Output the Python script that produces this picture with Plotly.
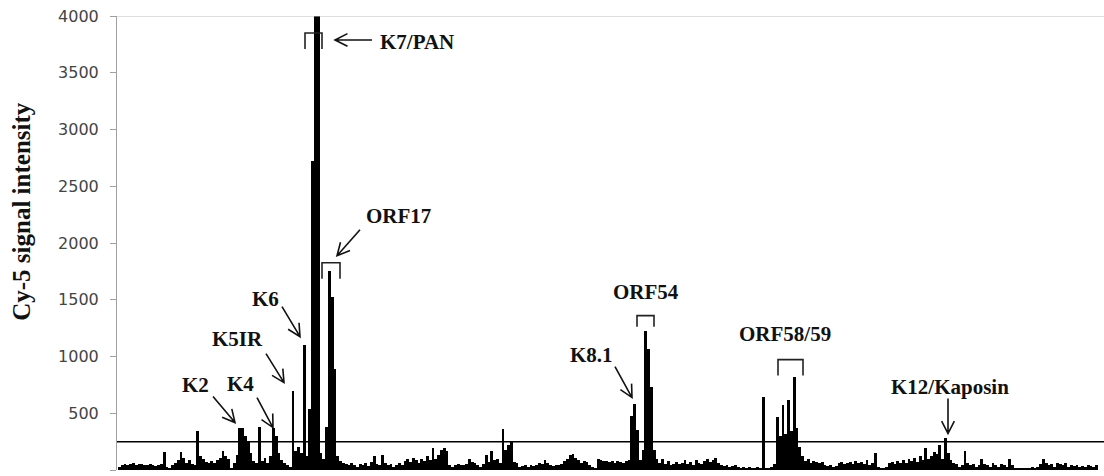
import plotly.graph_objects as go
import math

# ---- data ----
probe_index = list(range(350))
signal = [
    30, 45, 50, 40, 55, 60, 45, 50, 55, 45, 40, 50, 45, 35, 40, 50,
    160, 30, 10, 40, 60, 90, 160, 110, 60, 90, 50, 40, 340, 120,
    100, 70, 60, 80, 60, 90, 110, 170, 120, 100, 20, 60, 130, 370, 370,
    300, 250, 150, 80, 60, 380, 80, 110, 60, 120, 370, 300, 150, 90, 60,
    40, 30, 700, 170, 200, 150, 1100, 120, 540, 2720, 4200, 4200, 150, 100, 380,
    1750, 1520, 890, 120, 80, 60, 50, 40, 60, 45, 30, 50, 40, 60, 35,
    70, 120, 50, 40, 135, 60, 40, 50, 30, 45, 60, 40, 80, 100, 70,
    110, 90, 60, 100, 80, 120, 90, 190, 100, 130, 180, 190, 170, 40, 30,
    40, 50, 45, 40, 50, 100, 70, 60, 40, 30, 50, 130, 70, 165, 90,
    100, 60, 365, 180, 220, 250, 70, 60, 30, 35, 40, 30, 40, 35, 45,
    60, 50, 90, 60, 40, 35, 45, 40, 50, 80, 100, 130, 145, 110, 90,
    60, 80, 70, 40, 30, 20, 100, 90, 80, 80, 70, 80, 60, 75, 70,
    60, 80, 90, 475, 580, 355, 90, 180, 1225, 1065, 730, 180, 100, 60, 100,
    50, 80, 40, 55, 70, 50, 60, 90, 50, 70, 40, 90, 60, 50, 80,
    100, 70, 90, 110, 60, 40, 35, 40, 30, 35, 40, 25, 20, 30, 20,
    25, 10, 20, 30, 20, 640, 20, 20, 30, 50, 465, 300, 570, 320, 620,
    340, 820, 370, 200, 120, 80, 100, 60, 80, 70, 60, 70, 40, 35, 40,
    30, 35, 60, 70, 50, 60, 70, 50, 80, 60, 70, 50, 90, 40, 60,
    150, 30, 20, 20, 30, 60, 70, 50, 80, 60, 90, 60, 100, 80, 110,
    70, 120, 90, 195, 100, 120, 160, 140, 220, 100, 280, 150, 90, 60, 50,
    30, 40, 165, 60, 40, 50, 30, 40, 100, 50, 40, 30, 60, 40, 30,
    50, 40, 30, 100, 40, 20, 20, 15, 20, 15, 20, 25, 20, 30, 50,
    100, 60, 40, 50, 30, 60, 50, 40, 60, 30, 40, 35, 40, 30, 35,
    30, 40, 35, 30, 40,
]
threshold = 250
y_ticks = [0, 500, 1000, 1500, 2000, 2500, 3000, 3500, 4000]
y_title = "Cy-5 signal intensity"

# ---- layout geometry (pixels) ----
W, H = 1104, 476
L, R, T, B = 117, 4, 16, 5.5
PW, PH = W - L - R, H - T - B


def px(x):
    return (x - L) / PW


def py(y):
    return (H - B - y) / PH


fig = go.Figure()
fig.add_trace(go.Bar(x=probe_index, y=signal, marker=dict(color="black", line=dict(width=0)),
                     hoverinfo="x+y"))

shapes = []
shapes.append(dict(type="line", xref="paper", yref="y", x0=0, x1=px(W), y0=4000, y1=4000,
                   line=dict(color="#bdbdbd", width=1)))
shapes.append(dict(type="line", xref="paper", yref="y", x0=0, x1=px(W), y0=threshold, y1=threshold,
                   line=dict(color="black", width=1.5)))


def arrow(x0, y0, x1, y1, head=14, spread=27):
    ang = math.atan2(y0 - y1, x0 - x1)
    pts = []
    for s in (-1, 1):
        a = ang + s * math.radians(spread)
        pts.append((x1 + head * math.cos(a), y1 + head * math.sin(a)))
    path = (f"M{px(x0)},{py(y0)} L{px(x1)},{py(y1)} "
            f"M{px(pts[0][0])},{py(pts[0][1])} L{px(x1)},{py(y1)} L{px(pts[1][0])},{py(pts[1][1])}")
    shapes.append(dict(type="path", xref="paper", yref="paper", path=path,
                       line=dict(color="#111", width=1.6)))


def bracket(x0, x1, ytop, ybot):
    path = (f"M{px(x0)},{py(ybot)} L{px(x0)},{py(ytop)} L{px(x1)},{py(ytop)} L{px(x1)},{py(ybot)}")
    shapes.append(dict(type="path", xref="paper", yref="paper", path=path,
                       line=dict(color="#222", width=1.6)))


arrow(372, 40, 335, 40)
arrow(360, 230, 337, 256)
arrow(282, 307, 300, 337)
arrow(266, 354, 284, 383)
arrow(257, 398, 273, 428)
arrow(213, 397, 235, 423)
arrow(615, 367, 632, 398)
arrow(948, 399, 948, 434)

bracket(305, 322, 33, 49)
bracket(322, 340, 263, 279)
bracket(637, 654, 316, 327)
bracket(778, 803, 360, 376)

labels = [
    ("K7/PAN", 378, 42, "left"),
    ("ORF17", 398, 216, "center"),
    ("K6", 265, 299, "center"),
    ("K5IR", 237, 339, "center"),
    ("K4", 240, 384, "center"),
    ("K2", 195, 385, "center"),
    ("K8.1", 591, 355, "center"),
    ("ORF54", 646, 292, "center"),
    ("ORF58/59", 785, 334, "center"),
    ("K12/Kaposin", 950, 387, "center"),
]
annotations = []
for txt, x, y, anc in labels:
    annotations.append(dict(text=f"<b>{txt}</b>", x=px(x), y=py(y), xref="paper", yref="paper",
                            xanchor=anc, yanchor="middle", showarrow=False,
                            font=dict(family="Liberation Serif", size=21, color="#111")))
annotations.append(dict(text=f"<b>{y_title}</b>", x=px(22), y=py(212), xref="paper", yref="paper",
                        xanchor="center", yanchor="middle", showarrow=False, textangle=-90,
                        font=dict(family="Liberation Serif", size=25, color="#111")))

fig.update_layout(
    template="none",
    width=W, height=H,
    margin=dict(l=L, r=R, t=T, b=B, autoexpand=False),
    plot_bgcolor="white", paper_bgcolor="white",
    showlegend=False, bargap=0,
    shapes=shapes, annotations=annotations,
    xaxis=dict(range=[-0.857, -0.857 + PW / 2.8], showticklabels=False, showgrid=False,
               zeroline=False, showline=False, ticks="", automargin=False),
    yaxis=dict(range=[0, 4000], tickvals=y_ticks, showgrid=False, zeroline=False,
               showline=True, linecolor="#a0a0a0", linewidth=1, ticks="outside", ticklen=6,
               tickcolor="#a0a0a0", ticklabelstandoff=8, automargin=False,
               tickfont=dict(family="DejaVu Sans", size=16, color="#444")),
)

fig.write_html("out.html", config={"displayModeBar": False},
               post_script="document.body.style.margin='0';document.body.style.overflow='hidden';")
